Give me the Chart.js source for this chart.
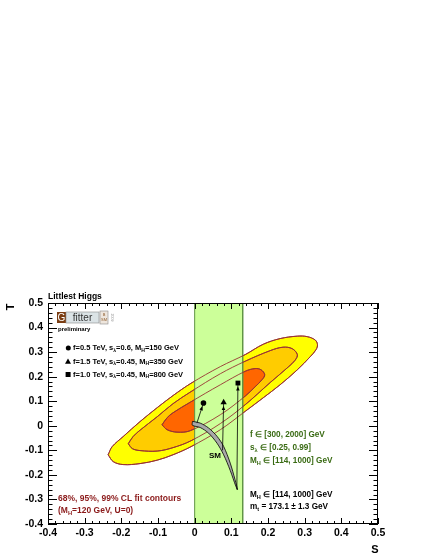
<!DOCTYPE html>
<html>
<head>
<meta charset="utf-8">
<script src="https://cdn.jsdelivr.net/npm/chart.js@4.4.0/dist/chart.umd.min.js"></script>
<style>
  html, body { margin: 0; padding: 0; background: #fff; }
  #wrap { width: 431px; height: 557px; }
</style>
</head>
<body>
<div id="wrap"><canvas id="stChart" width="431" height="557"></canvas></div>
<script>
// S,T contours of the fit
const contour99 = [[-0.236,-0.118],[-0.225,-0.085],[-0.195,-0.044],[-0.149,0.017],[-0.102,0.074],[-0.059,0.123],[-0.010,0.173],[0.070,0.241],[0.138,0.290],[0.187,0.332],[0.233,0.355],[0.280,0.365],[0.307,0.363],[0.329,0.349],[0.335,0.330],[0.331,0.310],[0.315,0.281],[0.280,0.228],[0.233,0.167],[0.187,0.114],[0.138,0.059],[0.070,-0.016],[-0.010,-0.085],[-0.059,-0.118],[-0.102,-0.140],[-0.149,-0.154],[-0.195,-0.158],[-0.222,-0.146],[-0.236,-0.118]];
const contour95 = [[-0.181,-0.073],[-0.168,-0.044],[-0.149,-0.018],[-0.102,0.037],[-0.059,0.090],[-0.010,0.139],[0.070,0.212],[0.138,0.263],[0.206,0.306],[0.241,0.320],[0.266,0.314],[0.280,0.290],[0.274,0.267],[0.255,0.239],[0.206,0.176],[0.138,0.086],[0.070,0.009],[-0.010,-0.061],[-0.059,-0.089],[-0.102,-0.103],[-0.149,-0.101],[-0.170,-0.093],[-0.181,-0.073]];
const contour68 = [[-0.089,0.004],[-0.075,0.033],[-0.059,0.053],[-0.012,0.096],[0.070,0.167],[0.138,0.222],[0.165,0.233],[0.181,0.228],[0.191,0.208],[0.184,0.188],[0.165,0.159],[0.138,0.121],[0.070,0.045],[-0.012,-0.020],[-0.048,-0.026],[-0.075,-0.016],[-0.089,0.004]];

// SM prediction band (M_H 114..1000 GeV)
const smBand = [[-0.006,0.018],[0.015,0.011],[0.038,-0.009],[0.061,-0.043],[0.079,-0.084],[0.097,-0.152],[0.110,-0.219],[0.117,-0.260],[0.112,-0.245],[0.097,-0.182],[0.079,-0.118],[0.061,-0.071],[0.038,-0.030],[0.015,-0.007],[-0.006,0.002],[-0.006,0.018]];

// Littlest Higgs scan range in S
const lhBandS = [0, 0.131];

// three benchmark points and where their arrows meet the SM band
const lhS = [0.024, 0.079, 0.118];
const lhT = [0.093, 0.095, 0.174];
const smEndS = [0.006, 0.076, 0.115];
const smEndT = [0.011, -0.100, -0.260];
const lhMarkers = ['circle', 'triangle', 'rect'];

const xTicks = ['-0.4','-0.3','-0.2','-0.1','0','0.1','0.2','0.3','0.4','0.5'];
const yTicks = ['0.5','0.4','0.3','0.2','0.1','0','-0.1','-0.2','-0.3','-0.4'];

const FONT = '"Liberation Sans", Arial, Helvetica, sans-serif';
const pts = arr => arr.map(([x, y]) => ({ x, y }));

const bandPts = [
  { x: lhBandS[0], y: -0.4 }, { x: lhBandS[0], y: 0.5 },
  { x: lhBandS[1], y: 0.5 }, { x: lhBandS[1], y: -0.4 },
  { x: lhBandS[0], y: -0.4 }
];

function filled(data, color, order) {
  return {
    data: pts(data), showLine: true, fill: 'shape',
    backgroundColor: color, borderColor: '#993333', borderWidth: 1,
    pointRadius: 0, tension: 0.35, order
  };
}
function outline(data) {
  return {
    data: pts(data), showLine: true, fill: false,
    borderColor: '#993333', borderWidth: 0.9,
    pointRadius: 0, tension: 0.35, order: 6
  };
}

const datasets = [
  filled(contour99, '#ffff00', 10),
  filled(contour95, '#ffcc00', 9),
  filled(contour68, '#ff6600', 8),
  {
    data: bandPts, showLine: true, fill: 'shape',
    backgroundColor: '#ccff99', borderColor: '#5f9444', borderWidth: 1,
    pointRadius: 0, tension: 0, order: 7
  },
  outline(contour99), outline(contour95), outline(contour68),
  {
    data: pts(smBand), showLine: true, fill: 'shape',
    backgroundColor: '#a8a8a8', borderColor: '#000', borderWidth: 0.8,
    pointRadius: 0, tension: 0.3, order: 5
  }
];
lhS.forEach((s, i) => {
  datasets.push({
    data: [{ x: s, y: lhT[i] }, { x: smEndS[i], y: smEndT[i] }],
    showLine: true, fill: false, borderColor: '#000', borderWidth: 0.8,
    pointRadius: 0, order: 4
  });
});
datasets.push({
  data: lhS.map((s, i) => ({ x: s, y: lhT[i] })),
  showLine: false, pointStyle: lhMarkers, pointRadius: [2.8, 3.6, 3.4],
  backgroundColor: '#000', borderColor: '#000', borderWidth: 0, order: 3
});

// rich text with subscripts: parts = [[text, isSub], ...]
function rich(ctx, x, y, parts, size, color) {
  let cx = x;
  ctx.fillStyle = color;
  ctx.textAlign = 'left';
  ctx.textBaseline = 'middle';
  parts.forEach(([txt, sub]) => {
    const s = sub ? size * 0.68 : size;
    ctx.font = `bold ${s}px ${FONT}`;
    ctx.fillText(txt, cx, sub ? y + size * 0.32 : y);
    cx += ctx.measureText(txt).width;
  });
}

const decorations = {
  id: 'decorations',
  afterDatasetsDraw(chart) {
    // small arrowheads just below each benchmark marker
    const ctx = chart.ctx, xs = chart.scales.x, ys = chart.scales.y;
    ctx.save();
    ctx.fillStyle = '#000';
    lhS.forEach((s, i) => {
      const x0 = xs.getPixelForValue(s), y0 = ys.getPixelForValue(lhT[i]);
      const x1 = xs.getPixelForValue(smEndS[i]), y1 = ys.getPixelForValue(smEndT[i]);
      const len = Math.hypot(x1 - x0, y1 - y0);
      const dx = (x1 - x0) / len, dy = (y1 - y0) / len;
      const tx = x0 + dx * 3.5, ty = y0 + dy * 3.5;
      const bx = x0 + dx * 7.5, by = y0 + dy * 7.5;
      ctx.beginPath();
      ctx.moveTo(tx, ty);
      ctx.lineTo(bx - dy * 1.8, by + dx * 1.8);
      ctx.lineTo(bx + dy * 1.8, by - dx * 1.8);
      ctx.closePath();
      ctx.fill();
    });
    ctx.restore();
  },
  afterDraw(chart) {
    const ctx = chart.ctx, xs = chart.scales.x, ys = chart.scales.y, a = chart.chartArea;
    ctx.save();

    // frame
    ctx.strokeStyle = '#000';
    ctx.lineWidth = 1;
    ctx.strokeRect(a.left + 0.5, a.top + 0.5, a.right - a.left - 1, a.bottom - a.top - 1);

    // ticks on all four sides, minor every 0.02
    ctx.beginPath();
    for (let k = -20; k <= 25; k++) {
      const v = k * 0.02;
      const major = k % 5 === 0;
      const px = Math.round(xs.getPixelForValue(v)) + 0.5;
      const py = Math.round(ys.getPixelForValue(v)) + 0.5;
      const lx = major ? 6 : 3;
      const ly = major ? 9 : 4.5;
      ctx.moveTo(px, a.bottom); ctx.lineTo(px, a.bottom - lx);
      ctx.moveTo(px, a.top); ctx.lineTo(px, a.top + lx);
      ctx.moveTo(a.left, py); ctx.lineTo(a.left + ly, py);
      ctx.moveTo(a.right, py); ctx.lineTo(a.right - ly, py);
    }
    ctx.stroke();

    // tick labels
    ctx.fillStyle = '#000';
    ctx.font = `bold 10.5px ${FONT}`;
    ctx.textAlign = 'center';
    ctx.textBaseline = 'middle';
    xTicks.forEach(t => ctx.fillText(t, xs.getPixelForValue(parseFloat(t)), 533));
    ctx.textAlign = 'right';
    yTicks.forEach(t => ctx.fillText(t, 43, ys.getPixelForValue(parseFloat(t))));

    // axis titles
    ctx.font = `bold 11px ${FONT}`;
    ctx.textAlign = 'center';
    ctx.fillText('S', 375, 550);
    ctx.save();
    ctx.translate(11, 307);
    ctx.rotate(-Math.PI / 2);
    ctx.fillText('T', 0, 0);
    ctx.restore();

    // title
    ctx.textAlign = 'left';
    ctx.font = `bold 8.5px ${FONT}`;
    ctx.fillText('Littlest Higgs', 48, 297);

    // Gfitter logo
    ctx.fillStyle = '#7b3d12';
    ctx.fillRect(57, 312, 9, 11);
    ctx.fillStyle = '#fff';
    ctx.font = `10px ${FONT}`;
    ctx.textAlign = 'center';
    ctx.fillText('G', 61.5, 318);
    ctx.fillStyle = '#dbe3e6';
    ctx.fillRect(66, 312, 33, 11);
    ctx.strokeStyle = '#8a8a8a';
    ctx.lineWidth = 0.6;
    ctx.strokeRect(66, 312, 33, 11);
    ctx.fillStyle = '#333';
    ctx.font = `10px ${FONT}`;
    ctx.fillText('fitter', 82.5, 318);
    ctx.fillStyle = '#eee6dd';
    ctx.fillRect(100, 311, 8, 13);
    ctx.strokeRect(100, 311, 8, 13);
    ctx.fillStyle = '#8b5a2b';
    ctx.font = `4px ${FONT}`;
    ctx.fillText('B', 104, 314.5);
    ctx.fillText('SM', 104, 320);
    ctx.save();
    ctx.translate(111.5, 317.5);
    ctx.rotate(Math.PI / 2);
    ctx.fillStyle = '#888';
    ctx.font = `3.5px ${FONT}`;
    ctx.fillText('2009', 0, 0);
    ctx.restore();
    ctx.fillStyle = '#000';
    ctx.textAlign = 'left';
    ctx.font = `bold 6px ${FONT}`;
    ctx.fillText('preliminary', 58, 329.5);

    // benchmark legend
    const legY = [348, 361.5, 374.5];
    const legText = [
      [['f=0.5 TeV, s', 0], ['λ', 1], ['=0.6, M', 0], ['H', 1], ['=150 GeV', 0]],
      [['f=1.5 TeV, s', 0], ['λ', 1], ['=0.45, M', 0], ['H', 1], ['=350 GeV', 0]],
      [['f=1.0 TeV, s', 0], ['λ', 1], ['=0.45, M', 0], ['H', 1], ['=800 GeV', 0]]
    ];
    ctx.fillStyle = '#000';
    ctx.beginPath(); ctx.arc(68.3, legY[0], 2.5, 0, Math.PI * 2); ctx.fill();
    ctx.beginPath(); ctx.moveTo(68, legY[1] - 3); ctx.lineTo(71, legY[1] + 2.3); ctx.lineTo(65, legY[1] + 2.3); ctx.closePath(); ctx.fill();
    ctx.fillRect(65.6, legY[2] - 2.5, 5, 5);
    legText.forEach((parts, i) => rich(ctx, 73, legY[i], parts, 7.5, '#000'));

    // CL contours note
    rich(ctx, 58, 499, [['68%, 95%, 99% CL fit contours', 0]], 8.5, '#8b1a1a');
    rich(ctx, 58, 510.5, [['(M', 0], ['H', 1], ['=120 GeV, U=0)', 0]], 8.5, '#8b1a1a');

    // scan ranges
    const green = '#3a6b14';
    rich(ctx, 250, 434.5, [['f ∈ [300, 2000] GeV', 0]], 8.2, green);
    rich(ctx, 250, 447.5, [['s', 0], ['λ', 1], [' ∈ [0.25, 0.99]', 0]], 8.2, green);
    rich(ctx, 250, 460.5, [['M', 0], ['H', 1], [' ∈ [114, 1000] GeV', 0]], 8.2, green);
    rich(ctx, 250, 494.5, [['M', 0], ['H', 1], [' ∈ [114, 1000] GeV', 0]], 8.2, '#000');
    rich(ctx, 250, 506.5, [['m', 0], ['t', 1], [' = 173.1 ± 1.3 GeV', 0]], 8.2, '#000');

    // SM label
    ctx.fillStyle = '#000';
    ctx.font = `bold 8px ${FONT}`;
    ctx.textAlign = 'center';
    ctx.fillText('SM', 215, 455.5);

    ctx.restore();
  }
};

const ctx = document.getElementById('stChart').getContext('2d');
const stChart = new Chart(ctx, {
  type: 'scatter',
  data: { datasets },
  options: {
    responsive: false,
    animation: false,
    events: [],
    layout: { padding: { left: 48, top: 303, right: 53, bottom: 33 } },
    scales: {
      x: { type: 'linear', min: -0.4, max: 0.5, display: false },
      y: { type: 'linear', min: -0.4, max: 0.5, display: false }
    },
    plugins: {
      legend: { display: false },
      tooltip: { enabled: false }
    }
  },
  plugins: [decorations]
});
</script>
</body>
</html>
